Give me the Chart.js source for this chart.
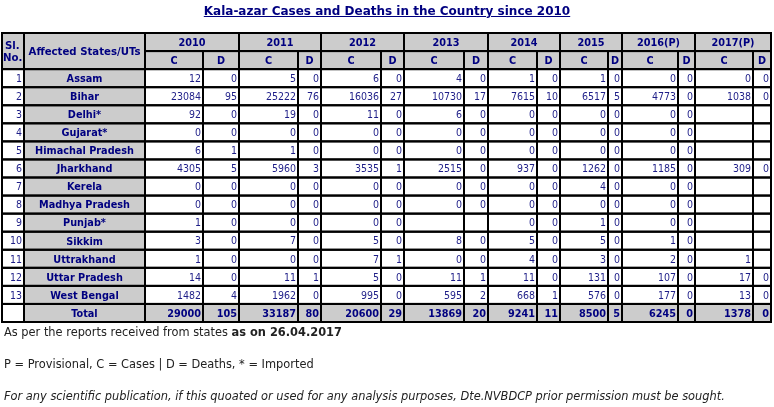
<!DOCTYPE html>
<html><head><meta charset="utf-8">
<script src="https://cdn.jsdelivr.net/npm/chart.js@4.4.1/dist/chart.umd.min.js"></script>
<style>
html,body{margin:0;padding:0;background:#fff;width:774px;height:407px;overflow:hidden;}
#wrap{position:absolute;left:0;top:0;width:774px;height:407px;}
#title{position:absolute;top:4px;left:0;width:774px;text-align:center;font:bold 12px "DejaVu Sans";color:#000080;text-decoration:underline;}
.foot{position:absolute;left:4px;font:11.4px "DejaVu Sans";color:#222;white-space:nowrap;}
</style></head><body>
<div id="wrap"><canvas id="c" width="774" height="407"></canvas></div>
<div id="title">Kala-azar Cases and Deaths in the Country since 2010</div>
<div class="foot" style="top:325px">As per the reports received from states <b>as on 26.04.2017</b></div>
<div class="foot" style="top:357px">P = Provisional, C = Cases | D = Deaths, * = Imported</div>
<div class="foot" style="top:389px;font-style:italic">For any scientific publication, if this quoated or used for any analysis purposes, Dte.NVBDCP prior permission must be sought.</div>
<script>
// ---- DATA ----
const years = ['2010','2011','2012','2013','2014','2015','2016(P)','2017(P)'];
const states = ['Assam','Bihar','Delhi*','Gujarat*','Himachal Pradesh','Jharkhand','Kerela','Madhya Pradesh','Punjab*','Sikkim','Uttrakhand','Uttar Pradesh','West Bengal'];
const cases2010 = [12,23084,92,0,6,4305,0,0,1,3,1,14,1482];
const deaths2010 = [0,95,0,0,1,5,0,0,0,0,0,0,4];
const cases2011 = [5,25222,19,0,1,5960,0,0,0,7,0,11,1962];
const deaths2011 = [0,76,0,0,0,3,0,0,0,0,0,1,0];
const cases2012 = [6,16036,11,0,0,3535,0,0,0,5,7,5,995];
const deaths2012 = [0,27,0,0,0,1,0,0,0,0,1,0,0];
const cases2013 = [4,10730,6,0,0,2515,0,0,null,8,0,11,595];
const deaths2013 = [0,17,0,0,0,0,0,0,null,0,0,1,2];
const cases2014 = [1,7615,0,0,0,937,0,0,0,5,4,11,668];
const deaths2014 = [0,10,0,0,0,0,0,0,0,0,0,0,1];
const cases2015 = [1,6517,0,0,0,1262,4,0,1,5,3,131,576];
const deaths2015 = [0,5,0,0,0,0,0,0,0,0,0,0,0];
const cases2016 = [0,4773,0,0,0,1185,0,0,0,1,2,107,177];
const deaths2016 = [0,0,0,0,0,0,0,0,0,0,0,0,0];
const cases2017 = [0,1038,null,null,null,309,null,null,null,null,1,17,13];
const deaths2017 = [0,0,null,null,null,0,null,null,null,null,null,0,0];
const totalCases = [29000,33187,20600,13869,9241,8500,6245,1378];
const totalDeaths = [105,80,29,20,11,5,0,0];

const casesByYear = [cases2010,cases2011,cases2012,cases2013,cases2014,cases2015,cases2016,cases2017];
const deathsByYear = [deaths2010,deaths2011,deaths2012,deaths2013,deaths2014,deaths2015,deaths2016,deaths2017];

// ---- LAYOUT (styling only) ----
const colEdges = [2,24,145,203,239,298,321,381,404,464,488,537,560,608,622,678,695,753,771];
const GREY = '#cccccc', NAVY = '#000080', NUM = '#1e1e88';
const FN = '"DejaVu Sans Condensed"';
const fontHead = 'bold 11.3px ' + FN, fontBold = 'bold 10.8px ' + FN, fontReg = '10.5px ' + FN;

function buildCells(){
  const cells = [];
  const add = (c0,c1,r0,r1,bg,text,align,font,color)=>cells.push({c0,c1,r0,r1,bg,text,align,font,color});
  // header
  add(0,1,0,2,GREY,['Sl.','No.'],'left',fontHead,NAVY);
  add(1,2,0,2,GREY,'Affected States/UTs','center',fontHead,NAVY);
  years.forEach((yr,k)=>{
    add(2+2*k,4+2*k,0,1,GREY,yr,'center',fontBold,NAVY);
    add(2+2*k,3+2*k,1,2,GREY,'C','center',fontBold,NAVY);
    add(3+2*k,4+2*k,1,2,GREY,'D','center',fontBold,NAVY);
  });
  states.forEach((st,i)=>{
    const r = 2+i;
    add(0,1,r,r+1,'#fff',String(i+1),'right',fontReg,NUM);
    add(1,2,r,r+1,GREY,st,'center',fontBold,NAVY);
    years.forEach((yr,k)=>{
      const cv = casesByYear[k][i], dv = deathsByYear[k][i];
      add(2+2*k,3+2*k,r,r+1,'#fff',cv==null?'':String(cv),'right',fontReg,NUM);
      add(3+2*k,4+2*k,r,r+1,'#fff',dv==null?'':String(dv),'right',fontReg,NUM);
    });
  });
  const rt = 2+states.length;
  add(0,1,rt,rt+1,'#fff','','right',fontReg,NUM);
  add(1,2,rt,rt+1,GREY,'Total','center',fontBold,NAVY);
  years.forEach((yr,k)=>{
    add(2+2*k,3+2*k,rt,rt+1,GREY,String(totalCases[k]),'right',fontBold,NAVY);
    add(3+2*k,4+2*k,rt,rt+1,GREY,String(totalDeaths[k]),'right',fontBold,NAVY);
  });
  return cells;
}

const tablePlugin = {
  id:'tableCells',
  afterDatasetsDraw(chart){
    const {ctx, scales:{x,y}} = chart;
    const X = c=>x.getPixelForValue(colEdges[c]);
    const Y = r=>y.getPixelForValue(r);
    const cells = buildCells();
    ctx.save();
    cells.forEach(c=>{
      ctx.fillStyle = c.bg;
      ctx.fillRect(X(c.c0),Y(c.r0),X(c.c1)-X(c.c0),Y(c.r1)-Y(c.r0));
    });
    ctx.strokeStyle = '#000';
    ctx.lineWidth = 2;
    cells.forEach(c=>{
      ctx.strokeRect(X(c.c0),Y(c.r0),X(c.c1)-X(c.c0),Y(c.r1)-Y(c.r0));
    });
    ctx.textBaseline = 'middle';
    cells.forEach(c=>{
      if(!c.text) return;
      ctx.font = c.font;
      ctx.fillStyle = c.color;
      const x0 = X(c.c0), x1 = X(c.c1), ym = (Y(c.r0)+Y(c.r1))/2;
      if(Array.isArray(c.text)){
        ctx.textAlign='left';
        const n = c.text.length;
        c.text.forEach((t,j)=>ctx.fillText(t,x0+(j===0?3:1),ym+(j-(n-1)/2)*12+1));
      } else if(c.align==='right'){
        ctx.textAlign='right'; ctx.fillText(c.text,x1-2,ym+1);
      } else {
        ctx.textAlign='center'; ctx.fillText(c.text,(x0+x1)/2,ym+1);
      }
    });
    ctx.restore();
  }
};

new Chart(document.getElementById('c'),{
  type:'scatter',
  data:{datasets:[{label:'cells',data:[],pointRadius:0}]},
  options:{
    responsive:false, animation:false,
    layout:{padding:{left:2,right:3,top:33,bottom:85}},
    plugins:{legend:{display:false},tooltip:{enabled:false},title:{display:false}},
    scales:{
      x:{type:'linear',display:false,min:colEdges[0],max:colEdges[colEdges.length-1]},
      y:{type:'linear',display:false,min:0,max:2+states.length+1,reverse:true}
    }
  },
  plugins:[tablePlugin]
});
</script>
</body></html>
